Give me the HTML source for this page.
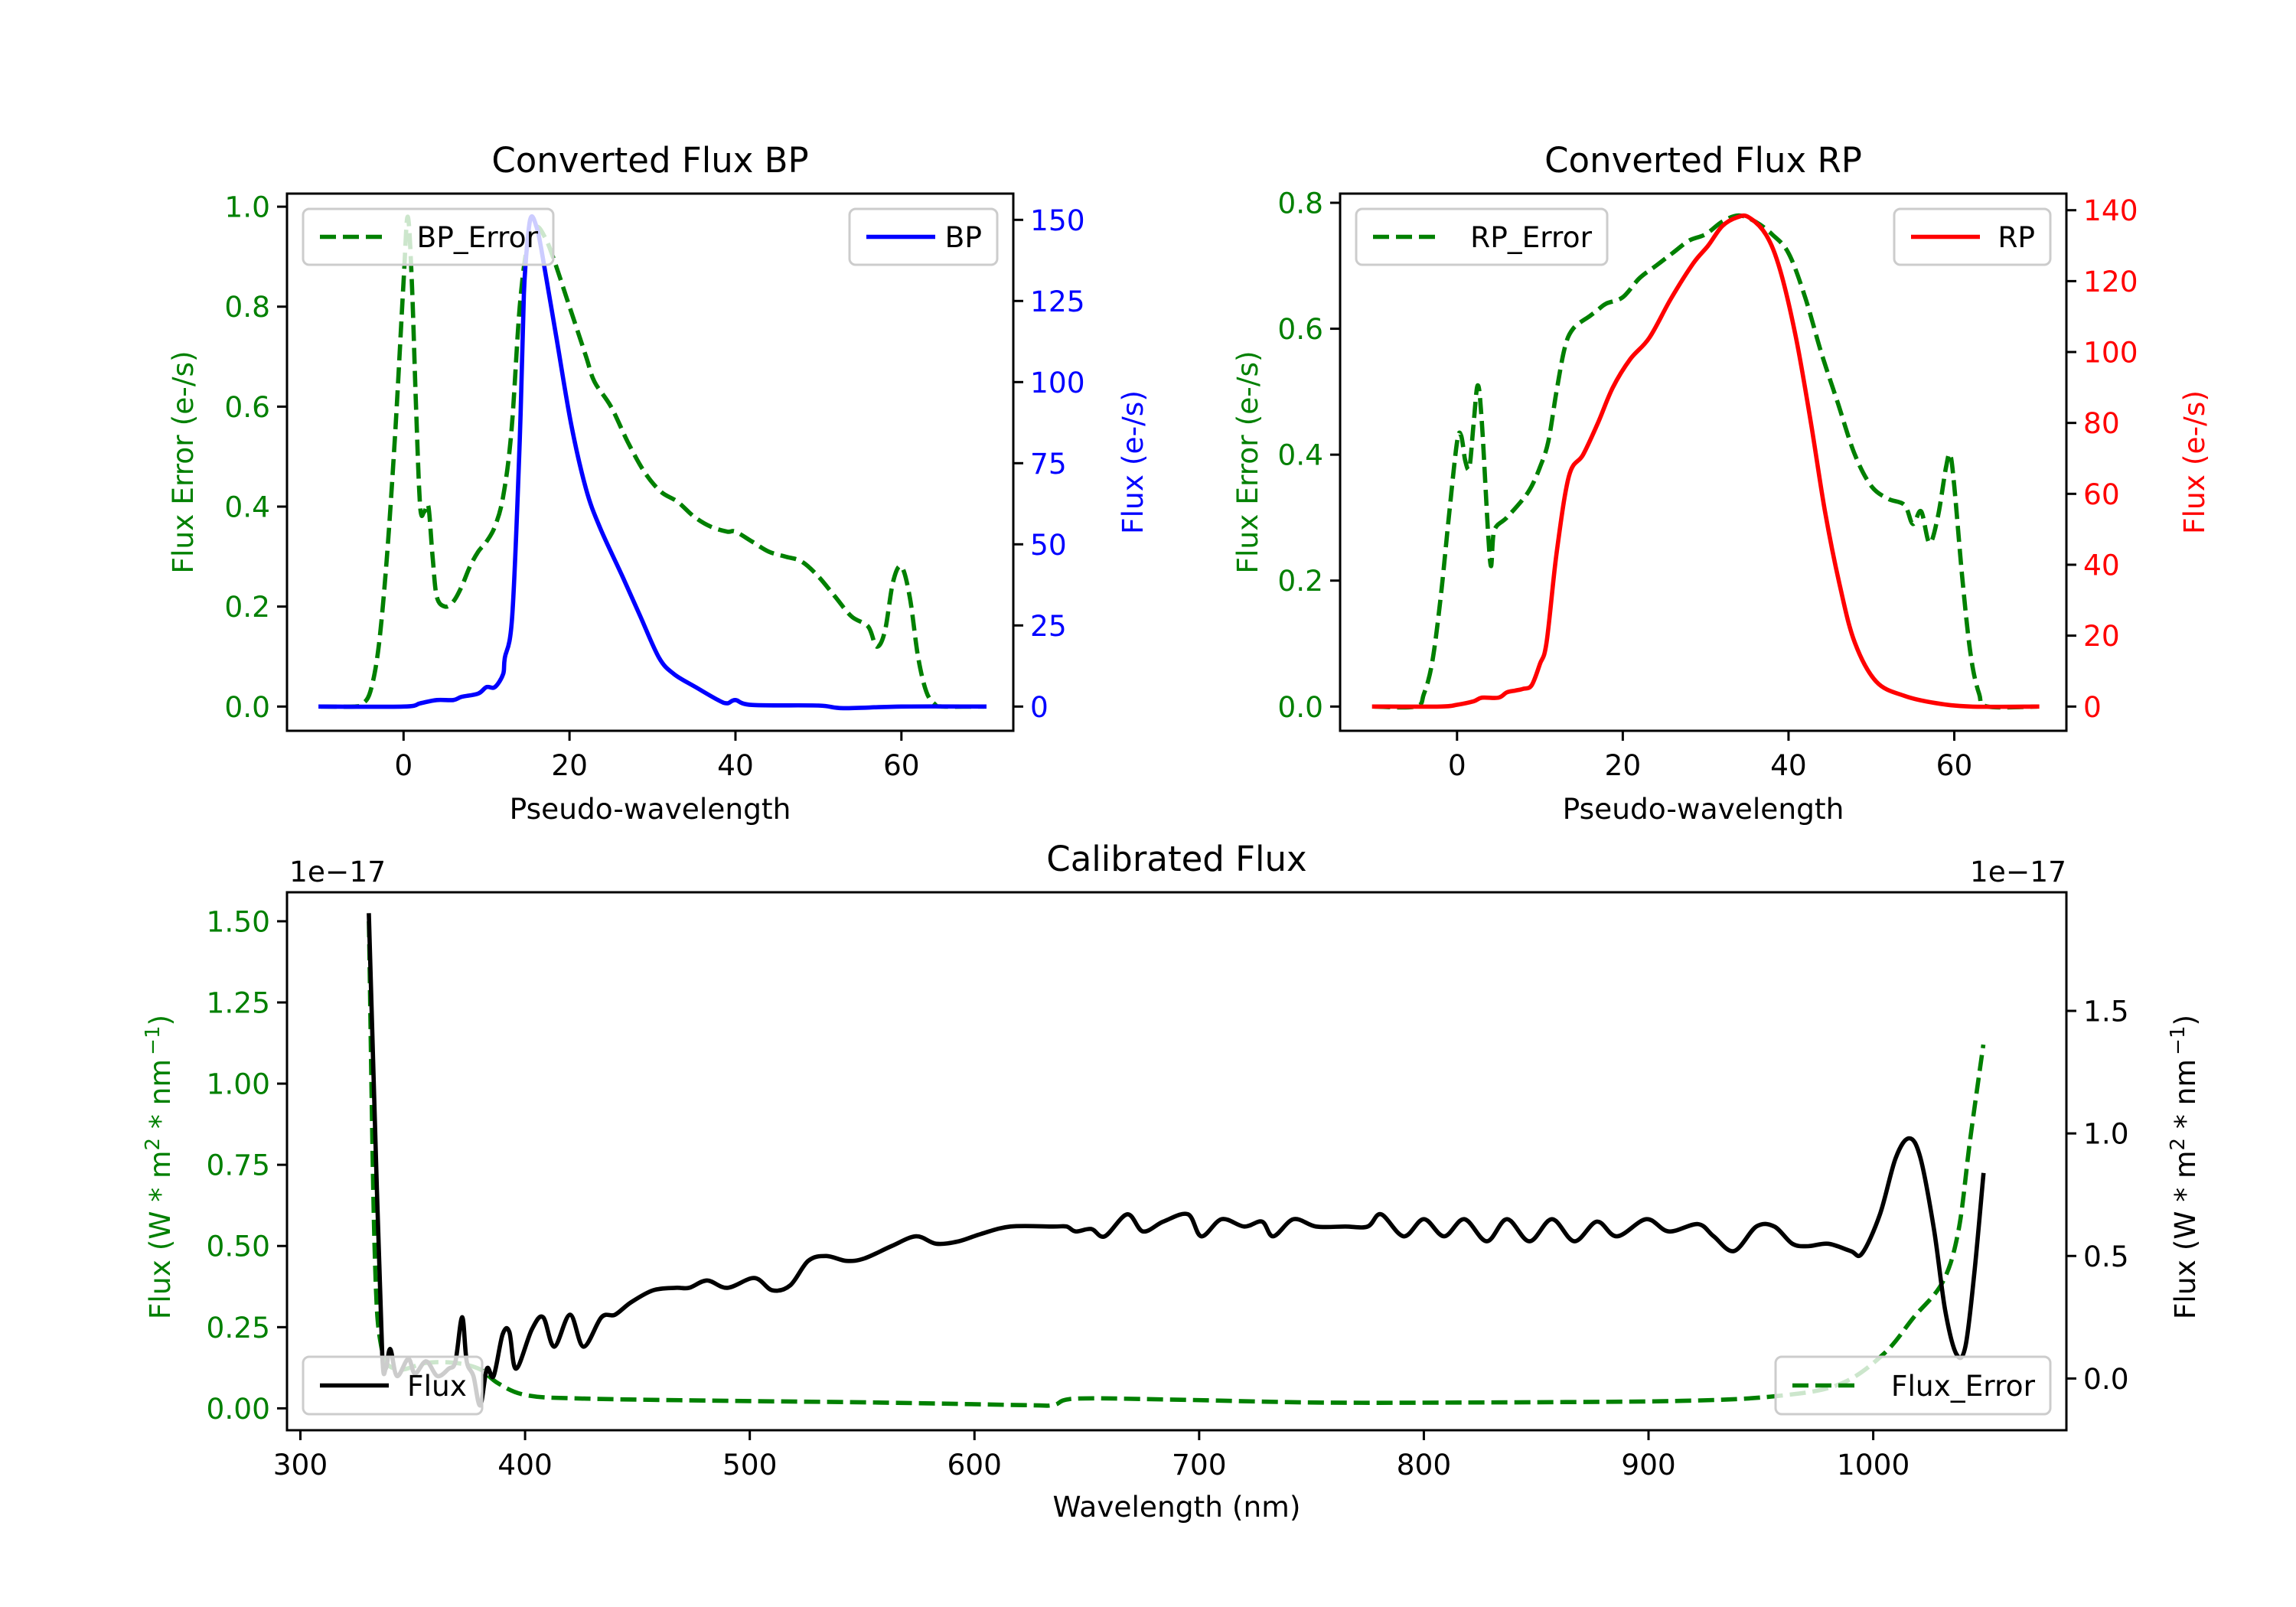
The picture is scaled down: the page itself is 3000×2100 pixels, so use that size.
<!DOCTYPE html>
<html><head><meta charset="utf-8">
<style>
html,body{margin:0;padding:0;background:#fff;}
svg{display:block;font-family:"DejaVu Sans","Liberation Sans",sans-serif;}
</style></head>
<body>
<svg id="fig" width="3000" height="2100" viewBox="0 0 3000 2100" xmlns="http://www.w3.org/2000/svg">
<rect width="3000" height="2100" fill="#fff"/>
</svg>
<script>
// ---------- BP panel data ----------
const bpErrX = [-10,-6,-5,-4,-3,-2,-1,0,0.5,1,1.5,2,2.5,3,3.5,4,5,6,7,8,9,10,11,12,13,14,15,16,17,18,20,22,23,25,27,29,31,33,35,37,39,40,42,44,46,48,50,52,54,56,57,58,59,60,61,62,63,64,65,70];
const bpErrY = [0,0,0.005,0.03,0.12,0.3,0.55,0.85,0.98,0.85,0.6,0.4,0.39,0.4,0.3,0.22,0.2,0.21,0.24,0.28,0.31,0.33,0.36,0.42,0.55,0.8,0.93,0.96,0.94,0.9,0.8,0.7,0.65,0.6,0.53,0.47,0.43,0.41,0.38,0.36,0.35,0.35,0.33,0.31,0.3,0.29,0.26,0.22,0.18,0.16,0.12,0.15,0.25,0.28,0.22,0.1,0.03,0.005,0,0];
const bpX = [-10,0,2,4,6,7,9,10,11,12,12.2,13.1,14,14.5,15,15.4,16,16.6,18.4,20.2,22,23.7,26.4,28.5,30.8,32.6,35.2,37.9,39,40,42,50,53,60,70];
const bpY = [0,0,1,2,2,3,4,6,6,10,15,28,82,127,145,151,148,141,114,87,67,55,40,28,15,10,6,2,1,2,0.5,0.3,-0.5,0,0];
const bpLeftTicks = [0.0,0.2,0.4,0.6,0.8,1.0];
const bpRightTicks = [0,25,50,75,100,125,150];
// ---------- RP panel data ----------
const rpErrX = [-10,-5,-4,-3,-2,-1,0,0.5,1,1.5,2,2.5,3,4,4.5,6,8,9,10,11,12,13,14,16,17,18,20,22,24,26,28,30,32,34,36,38,40,42,44,46,48,50,52,54,55,56,57,58,59,59.5,60,61,62,63,64,70];
const rpErrY = [0,0,0.02,0.07,0.17,0.3,0.42,0.43,0.39,0.38,0.45,0.51,0.45,0.23,0.28,0.3,0.33,0.35,0.38,0.42,0.5,0.57,0.6,0.62,0.63,0.64,0.65,0.68,0.7,0.72,0.74,0.75,0.77,0.78,0.77,0.75,0.72,0.65,0.56,0.48,0.4,0.35,0.33,0.32,0.29,0.31,0.26,0.3,0.38,0.4,0.35,0.2,0.08,0.02,0,0];
const rpX = [-10,-2,0,2,3,5,6,7,8,9,10,10.8,12,13.5,15.2,17,18.8,20.9,23.2,25.8,28.5,30.3,32,33.8,35.2,37.3,39,40.9,42.7,44.4,46.2,48,50.6,54,57.7,62,70];
const rpY = [0,0,0.5,1.5,2.5,2.5,4,4.5,5,6,12,18,43,65,71,80,90,98,104,115,125,130,135.5,138,138,133,123,104,80,55,34,18,7,3,1,0,0];
const rpLeftTicks = [0.0,0.2,0.4,0.6,0.8];
const rpRightTicks = [0,20,40,60,80,100,120,140];
const pseudoTicks = [0,20,40,60];
// ---------- Calibrated panel data ----------
const calX = [330.5,333.8,336.4,338,340,343,348,351,356,361,366,369,372,374,377,380,383,386,390,393,396,403,408,413,420,426,434,440,447,457,467,473,481,490,502,510,518,526,534,543,551,563,574,583,593,603,616,635,641,645,652,658,668,675,684,695,701,710,720,728,733,742,752,765,775,781,791,800,809,818,828,837,847,857,867,877,886,899,909,922,929,938,948,956,964,971,980,990,995,1003,1010,1016,1021,1027,1032,1037,1041,1045,1049];
const calFlux = [1.89,0.85,0.1,0.04,0.12,0.01,0.08,0.02,0.07,0.01,0.04,0.07,0.25,0.07,0.01,-0.11,0.04,0.01,0.18,0.19,0.04,0.2,0.25,0.13,0.26,0.13,0.25,0.26,0.31,0.36,0.37,0.37,0.4,0.37,0.41,0.36,0.38,0.48,0.5,0.48,0.49,0.54,0.58,0.55,0.56,0.59,0.62,0.62,0.62,0.6,0.61,0.58,0.67,0.6,0.64,0.67,0.58,0.65,0.62,0.64,0.58,0.65,0.62,0.62,0.62,0.67,0.58,0.65,0.58,0.65,0.56,0.65,0.56,0.65,0.56,0.64,0.58,0.65,0.6,0.63,0.58,0.52,0.62,0.62,0.55,0.54,0.55,0.52,0.51,0.67,0.9,0.98,0.9,0.61,0.28,0.1,0.13,0.43,0.83];
const calErrX = [330.5,333,336,343,356,369,380,388,401,427,492,557,622,635,645,687,752,817,915,960,986,1005,1018,1031,1038,1043,1049];
const calErr = [1.5,0.5,0.19,0.12,0.14,0.14,0.12,0.077,0.04,0.03,0.023,0.018,0.01,0.01,0.03,0.027,0.018,0.018,0.023,0.04,0.077,0.17,0.28,0.39,0.55,0.82,1.12];
const calLeftTicks = ["0.00","0.25","0.50","0.75","1.00","1.25","1.50"];
const calRightTicks = ["0.0","0.5","1.0","1.5"];
const wlTicks = [300,400,500,600,700,800,900,1000];

const NS = "http://www.w3.org/2000/svg";
const svg = document.getElementById('fig');
function el(tag, attrs, parent, text){
  const e = document.createElementNS(NS, tag);
  for (const k in attrs) e.setAttribute(k, attrs[k]);
  if (text !== undefined) e.textContent = text;
  (parent || svg).appendChild(e);
  return e;
}
function lin(d0,d1,p0,p1){ return v => p0 + (v-d0)*(p1-p0)/(d1-d0); }
const FS = 37.5;
const LW = 5.6;
const DASH = "21 9";

function smoothPath(P){
  let d = "M"+P[0][0].toFixed(1)+","+P[0][1].toFixed(1);
  for (let i=0;i<P.length-1;i++){
    const p0 = P[Math.max(0,i-1)], p1 = P[i], p2 = P[i+1], p3 = P[Math.min(P.length-1,i+2)];
    const t = 1/6;
    const c1x = p1[0]+(p2[0]-p0[0])*t, c1y = p1[1]+(p2[1]-p0[1])*t;
    const c2x = p2[0]-(p3[0]-p1[0])*t, c2y = p2[1]-(p3[1]-p1[1])*t;
    d += " C"+c1x.toFixed(1)+","+c1y.toFixed(1)+" "+c2x.toFixed(1)+","+c2y.toFixed(1)+" "+p2[0].toFixed(1)+","+p2[1].toFixed(1);
  }
  return d;
}
function polyline(xs, ys, fx, fy, color, dashed, name, g){
  const P = xs.map((x,i)=>[fx(x), fy(ys[i])]);
  const p = el('path', {d:smoothPath(P), fill:'none', stroke:color, 'stroke-width':LW, 'stroke-linejoin':'round', 'stroke-linecap': dashed?'butt':'square'}, g);
  if (dashed) p.setAttribute('stroke-dasharray', DASH);
  
  
  return p;
}
function frame(L,T,R,B,name){
  const r = el('rect', {x:L,y:T,width:R-L,height:B-T,fill:'none',stroke:'#000','stroke-width':3});
  
  
}
function yTicks(vals, fy, x, side, color, name, labels){
  const g = el('g', {});
  
  
  vals.forEach((v,i)=>{
    const y = fy(+v);
    const lab = labels ? labels[i] : String(v);
    if (side==='left'){
      el('line',{x1:x-13,y1:y,x2:x,y2:y,stroke:'#000','stroke-width':3},g);
      el('text',{x:x-22,y:y+13.5,'text-anchor':'end','font-size':FS,fill:color},g,lab);
    } else {
      el('line',{x1:x,y1:y,x2:x+13,y2:y,stroke:'#000','stroke-width':3},g);
      el('text',{x:x+22,y:y+13.5,'text-anchor':'start','font-size':FS,fill:color},g,lab);
    }
  });
}
function xTicks(vals, fx, y, name){
  const g = el('g', {});
  
  
  vals.forEach(v=>{
    const x = fx(v);
    el('line',{x1:x,y1:y,x2:x,y2:y+13,stroke:'#000','stroke-width':3},g);
    el('text',{x:x,y:y+58,'text-anchor':'middle','font-size':FS,fill:'#000'},g,String(v));
  });
}
function text(x,y,s,opts,name){
  const a = Object.assign({x:x,y:y,'font-size':FS,fill:'#000','text-anchor':'middle'},opts||{});
  const t = el('text',a,svg,s);
  
  
  return t;
}
function vtext(x,y,s,color,name){
  const t = el('text',{x:0,y:0,'font-size':FS,fill:color,'text-anchor':'middle',transform:`translate(${x},${y}) rotate(-90)`},svg,s);
  
  
  return t;
}
function legend(x0,y0,x1,y1,label,color,dashed,name){
  const g = el('g',{});
  
  
  el('rect',{x:x0,y:y0,width:x1-x0,height:y1-y0,rx:8,fill:'rgba(255,255,255,0.8)',stroke:'#cccccc','stroke-width':3},g);
  const ly = (y0+y1)/2;
  const l = el('line',{x1:x0+22,y1:ly,x2:x0+112,y2:ly,stroke:color,'stroke-width':LW},g);
  if (dashed) l.setAttribute('stroke-dasharray', DASH);
  el('text',{x:x1-20,y:ly+13.5,'font-size':FS,fill:'#000','text-anchor':'end'},g,label);
}
const supLabel = 'Flux (W * m<tspan dy="-14" font-size="26">2</tspan><tspan dy="14"> * nm</tspan><tspan dy="-14" font-size="26">\u2009\u22121</tspan><tspan dy="14">)</tspan>';

// ===== BP panel =====
{
  const L=375,R=1324,T=253,B=955;
  const fx = lin(0,60,527.3,1177.8);
  const fyL = lin(0,1,923.3,270.1);
  const fyR = lin(0,150,923.3,287.3);
  polyline(bpErrX,bpErrY,fx,fyL,'#008000',true,'bp-error-line');
  polyline(bpX,bpY,fx,fyR,'#0000ff',false,'bp-flux-line');
  frame(L,T,R,B,'bp-axes-frame');
  yTicks(bpLeftTicks.map(v=>v.toFixed(1)),fyL,L,'left','#008000','bp-left-y-ticks');
  yTicks(bpRightTicks,fyR,R,'right','#0000ff','bp-right-y-ticks');
  xTicks(pseudoTicks,fx,B,'bp-x-ticks');
  text((L+R)/2,225,'Converted Flux BP',{'font-size':45},'bp-title');
  text((L+R)/2,1070,'Pseudo-wavelength',{},'bp-x-axis-title');
  vtext(252,604,'Flux Error (e-/s)','#008000','bp-left-y-axis-title');
  vtext(1493,604,'Flux (e-/s)','#0000ff','bp-right-y-axis-title');
  legend(396,273,723,346,'BP_Error','#008000',true,'bp-error-legend');
  legend(1110,273,1303,346,'BP','#0000ff',false,'bp-legend');
}
// ===== RP panel =====
{
  const L=1751,R=2700,T=253,B=955;
  const fx = lin(0,60,1903.8,2553.5);
  const fyL = lin(0,0.8,923.3,265);
  const fyR = lin(0,140,923.3,274.7);
  polyline(rpErrX,rpErrY,fx,fyL,'#008000',true,'rp-error-line');
  polyline(rpX,rpY,fx,fyR,'#ff0000',false,'rp-flux-line');
  frame(L,T,R,B,'rp-axes-frame');
  yTicks(rpLeftTicks.map(v=>v.toFixed(1)),fyL,L,'left','#008000','rp-left-y-ticks');
  yTicks(rpRightTicks,fyR,R,'right','#ff0000','rp-right-y-ticks');
  xTicks(pseudoTicks,fx,B,'rp-x-ticks');
  text((L+R)/2,225,'Converted Flux RP',{'font-size':45},'rp-title');
  text((L+R)/2,1070,'Pseudo-wavelength',{},'rp-x-axis-title');
  vtext(1643,604,'Flux Error (e-/s)','#008000','rp-left-y-axis-title');
  vtext(2880,604,'Flux (e-/s)','#ff0000','rp-right-y-axis-title');
  legend(1772,273,2100,346,'RP_Error','#008000',true,'rp-error-legend');
  legend(2475,273,2679,346,'RP','#ff0000',false,'rp-legend');
}
// ===== Calibrated panel =====
{
  const L=375,R=2700,T=1166,B=1869;
  const fx = lin(300,1000,392.5,2447.6);
  const fyL = lin(0,1.5,1840.4,1203.9);
  const fyR = lin(0,1.5,1801.4,1321);
  polyline(calErrX,calErr,fx,fyL,'#008000',true,'calibrated-flux-error-line');
  polyline(calX,calFlux,fx,fyR,'#000000',false,'calibrated-flux-line');
  frame(L,T,R,B,'calibrated-axes-frame');
  yTicks(calLeftTicks,fyL,L,'left','#008000','calibrated-left-y-ticks',calLeftTicks);
  yTicks(calRightTicks,fyR,R,'right','#000000','calibrated-right-y-ticks',calRightTicks);
  xTicks(wlTicks,fx,B,'calibrated-x-ticks');
  text((L+R)/2,1138,'Calibrated Flux',{'font-size':45},'calibrated-title');
  text(378,1152,'1e\u221217',{'text-anchor':'start'},'left-offset-label');
  text(2700,1152,'1e\u221217',{'text-anchor':'end'},'right-offset-label');
  text((L+R)/2,1982,'Wavelength (nm)',{},'calibrated-x-axis-title');
  const t1 = vtext(222,1525,'','#008000','calibrated-left-y-axis-title');
  t1.innerHTML = supLabel;
  const t2 = vtext(2868,1525,'','#000000','calibrated-right-y-axis-title');
  t2.innerHTML = supLabel;
  legend(396,1773,630,1848,'Flux','#000000',false,'flux-legend');
  legend(2320,1773,2679,1848,'Flux_Error','#008000',true,'flux-error-legend');
}
</script>
</body></html>
